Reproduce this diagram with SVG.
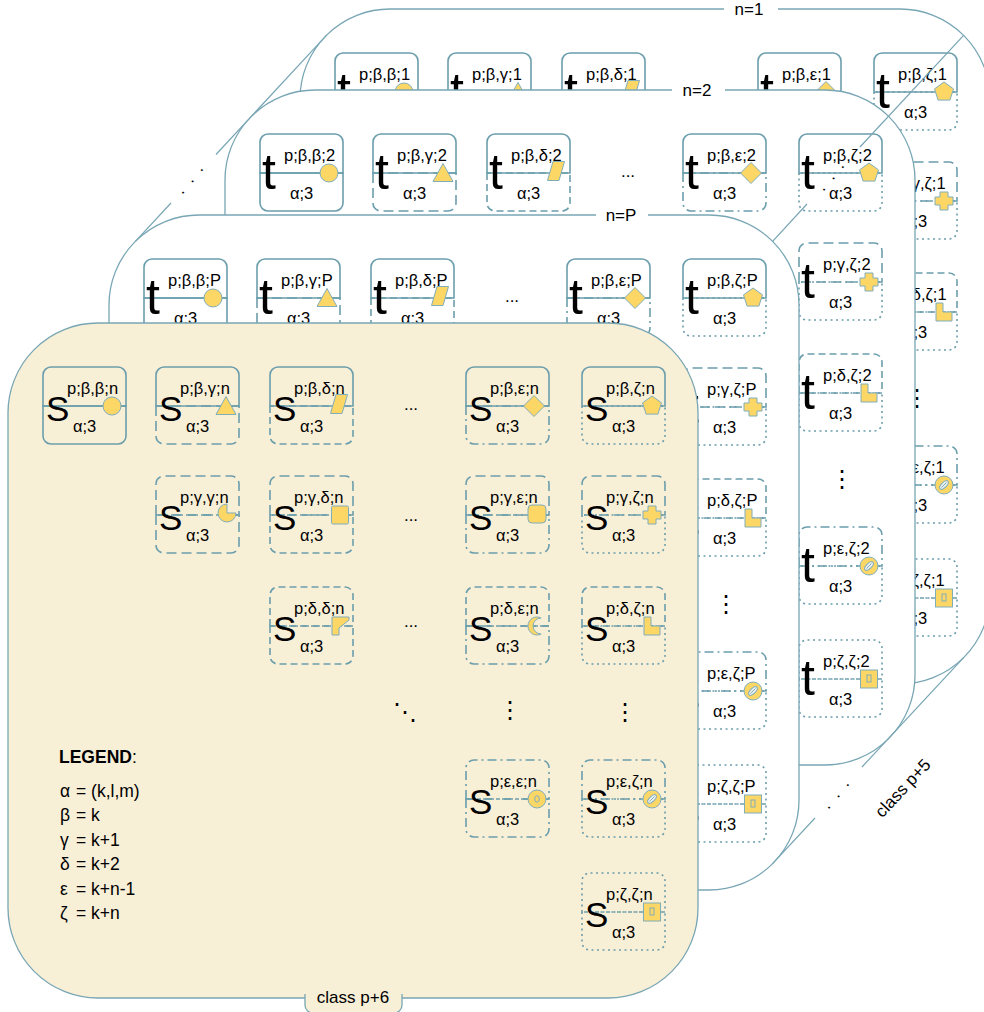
<svg xmlns="http://www.w3.org/2000/svg" width="984" height="1012" viewBox="0 0 984 1012">
<style>
text{font-family:"Liberation Sans",Arial,sans-serif;fill:#000}
.panel{fill:#fff;stroke:#78a6b4;stroke-width:1.3}
.cream{fill:#f8efd7}
.fr{fill:none;stroke:#6b9eac;stroke-width:1.6}
.g{stroke-dasharray:10 5}
.d{stroke-dasharray:7 4}
.e{stroke-dasharray:9 4 2 4}
.z{stroke-dasharray:2 3.5}
.sh{fill:#fdd766;stroke:#80adba;stroke-width:1}
.S{font-size:35px}
.T{font-size:50px}
.lb{font-size:16.5px}
.pl{font-size:17px;text-anchor:middle}
.el{font-size:17px;text-anchor:middle}
.vd{font-family:"DejaVu Sans",sans-serif;font-size:24px;text-anchor:middle}
.conn{stroke:#78a6b4;stroke-width:1.2;fill:none}
.lg{font-size:17.5px}
.dots{font-size:17px;text-anchor:middle;letter-spacing:2.6px}
</style>
<defs>
<path id="top" d="M0,39 V8 A8,8 0 0 1 8,0 H75 A8,8 0 0 1 83,8 V39 Z"/>
<path id="bot" d="M0,39 V69 A8,8 0 0 0 8,77 H75 A8,8 0 0 0 83,69 V39 Z"/>
<circle id="s-circ" class="sh" r="9"/>
<polygon id="s-tri" class="sh" points="0,-9.5 10,8.5 -10,8.5"/>
<polygon id="s-para" class="sh" points="-3,-9.5 8.5,-9.5 3,9.5 -8.5,9.5"/>
<polygon id="s-dia" class="sh" points="0,-10.5 10.5,0 0,10.5 -10.5,0"/>
<polygon id="s-pent" class="sh" points="0,-10 9.5,-3.1 5.9,8.1 -5.9,8.1 -9.5,-3.1"/>
<path id="s-pac" class="sh" d="M0,0 V-9 A9,9 0 1 0 9,0 Z"/>
<rect id="s-sq" class="sh" x="-8.5" y="-9" width="17" height="18" rx="1.5"/>
<rect id="s-rsq" class="sh" x="-9" y="-9" width="18" height="18" rx="4"/>
<polygon id="s-cross" class="sh" points="-4,-9 4,-9 4,-4 9,-4 9,4 4,4 4,9 -4,9 -4,4 -9,4 -9,-4 -4,-4"/>
<polygon id="s-flag" class="sh" points="-8,-9 9,-9 9,-6 -1,2 -1,9 -8,9"/>
<path id="s-moon" class="sh" d="M4.1,-8 A9,9 0 1 0 4.1,8 A8,8 0 1 1 4.1,-8 Z"/>
<polygon id="s-L" class="sh" points="-8,-9 -1,-9 -1,0 8,0 8,9 -8,9"/>
<g id="s-ring" class="sh"><circle r="9"/><ellipse rx="2.3" ry="3.3" style="fill:none"/></g>
<g id="s-hatch" class="sh"><circle r="9"/><ellipse rx="2.6" ry="5.5" transform="rotate(45)" style="fill:#e9eef0"/><line x1="-2.5" y1="2.5" x2="2.5" y2="-2.5"/></g>
<g id="s-box" class="sh"><rect x="-8.5" y="-9" width="17" height="18"/><rect x="-2" y="-4" width="4" height="7" style="fill:none"/></g>
</defs>

<!-- n=1 panel -->
<g id="panel-n1" transform="translate(300,9)">
<rect class="panel" width="690" height="675" rx="90"/>
<rect x="424" y="-7" width="54" height="14" fill="#fff"/>
<text class="pl" x="449" y="6">n=1</text>
<g id="n1-bb" transform="translate(35,44)"><use href="#top" class="fr"/><use href="#bot" class="fr"/><text class="T" x="2" y="55">t</text><text class="lb" x="24" y="27">p;β,β;1</text><text class="lb" x="30" y="65">α;3</text><use href="#s-circ" x="69" y="39"/></g>
<g id="n1-bg" transform="translate(148,44)"><use href="#top" class="fr"/><use href="#bot" class="fr g"/><text class="T" x="2" y="55">t</text><text class="lb" x="24" y="27">p;β,γ;1</text><text class="lb" x="30" y="65">α;3</text><use href="#s-tri" x="70" y="39"/></g>
<g id="n1-bd" transform="translate(262,44)"><use href="#top" class="fr"/><use href="#bot" class="fr d"/><text class="T" x="2" y="55">t</text><text class="lb" x="24" y="27">p;β,δ;1</text><text class="lb" x="30" y="65">α;3</text><use href="#s-para" x="69" y="37"/></g>
<g id="n1-be" transform="translate(458,44)"><use href="#top" class="fr"/><use href="#bot" class="fr e"/><text class="T" x="2" y="55">t</text><text class="lb" x="24" y="27">p;β,ε;1</text><text class="lb" x="30" y="65">α;3</text><use href="#s-dia" x="68" y="39"/></g>
<g id="n1-bz" transform="translate(574,44)"><use href="#top" class="fr"/><use href="#bot" class="fr z"/><text class="T" x="2" y="55">t</text><text class="lb" x="24" y="27">p;β,ζ;1</text><text class="lb" x="30" y="65">α;3</text><use href="#s-pent" x="70" y="39"/></g>
<g id="n1-gz" transform="translate(574,153)"><use href="#top" class="fr g"/><use href="#bot" class="fr z"/><text class="T" x="2" y="55">t</text><text class="lb" x="24" y="27">p;γ,ζ;1</text><text class="lb" x="30" y="65">α;3</text><use href="#s-cross" x="70" y="39"/></g>
<g id="n1-dz" transform="translate(574,264)"><use href="#top" class="fr d"/><use href="#bot" class="fr z"/><text class="T" x="2" y="55">t</text><text class="lb" x="24" y="27">p;δ,ζ;1</text><text class="lb" x="30" y="65">α;3</text><use href="#s-L" x="70" y="39"/></g>
<g id="n1-ez" transform="translate(574,437)"><use href="#top" class="fr e"/><use href="#bot" class="fr z"/><text class="T" x="2" y="55">t</text><text class="lb" x="24" y="27">p;ε,ζ;1</text><text class="lb" x="30" y="65">α;3</text><use href="#s-hatch" x="70" y="39"/></g>
<g id="n1-zz" transform="translate(574,550)"><use href="#top" class="fr z"/><use href="#bot" class="fr z"/><text class="T" x="2" y="55">t</text><text class="lb" x="24" y="27">p;ζ,ζ;1</text><text class="lb" x="30" y="65">α;3</text><use href="#s-box" x="70" y="39"/></g>
<text class="vd" x="617" y="397">⋮</text>
</g>

<!-- n=2 panel -->
<g id="panel-n2" transform="translate(225,90)">
<rect class="panel" width="690" height="675" rx="90"/>
<rect x="447" y="-7" width="53" height="14" fill="#fff"/>
<text class="pl" x="472" y="6">n=2</text>
<g id="n2-bb" transform="translate(35,44)"><use href="#top" class="fr"/><use href="#bot" class="fr"/><text class="T" x="2" y="55">t</text><text class="lb" x="24" y="27">p;β,β;2</text><text class="lb" x="30" y="65">α;3</text><use href="#s-circ" x="69" y="39"/></g>
<g id="n2-bg" transform="translate(148,44)"><use href="#top" class="fr"/><use href="#bot" class="fr g"/><text class="T" x="2" y="55">t</text><text class="lb" x="24" y="27">p;β,γ;2</text><text class="lb" x="30" y="65">α;3</text><use href="#s-tri" x="70" y="39"/></g>
<g id="n2-bd" transform="translate(262,44)"><use href="#top" class="fr"/><use href="#bot" class="fr d"/><text class="T" x="2" y="55">t</text><text class="lb" x="24" y="27">p;β,δ;2</text><text class="lb" x="30" y="65">α;3</text><use href="#s-para" x="69" y="37"/></g>
<text class="el" x="403" y="87">...</text>
<g id="n2-be" transform="translate(458,44)"><use href="#top" class="fr"/><use href="#bot" class="fr e"/><text class="T" x="2" y="55">t</text><text class="lb" x="24" y="27">p;β,ε;2</text><text class="lb" x="30" y="65">α;3</text><use href="#s-dia" x="68" y="39"/></g>
<g id="n2-bz" transform="translate(574,44)"><use href="#top" class="fr"/><use href="#bot" class="fr z"/><text class="T" x="2" y="55">t</text><text class="lb" x="24" y="27">p;β,ζ;2</text><text class="lb" x="30" y="65">α;3</text><use href="#s-pent" x="70" y="39"/></g>
<g id="n2-gz" transform="translate(574,153)"><use href="#top" class="fr g"/><use href="#bot" class="fr z"/><text class="T" x="2" y="55">t</text><text class="lb" x="24" y="27">p;γ,ζ;2</text><text class="lb" x="30" y="65">α;3</text><use href="#s-cross" x="70" y="39"/></g>
<g id="n2-dz" transform="translate(574,264)"><use href="#top" class="fr d"/><use href="#bot" class="fr z"/><text class="T" x="2" y="55">t</text><text class="lb" x="24" y="27">p;δ,ζ;2</text><text class="lb" x="30" y="65">α;3</text><use href="#s-L" x="70" y="39"/></g>
<g id="n2-ez" transform="translate(574,437)"><use href="#top" class="fr e"/><use href="#bot" class="fr z"/><text class="T" x="2" y="55">t</text><text class="lb" x="24" y="27">p;ε,ζ;2</text><text class="lb" x="30" y="65">α;3</text><use href="#s-hatch" x="70" y="39"/></g>
<g id="n2-zz" transform="translate(574,550)"><use href="#top" class="fr z"/><use href="#bot" class="fr z"/><text class="T" x="2" y="55">t</text><text class="lb" x="24" y="27">p;ζ,ζ;2</text><text class="lb" x="30" y="65">α;3</text><use href="#s-box" x="70" y="39"/></g>
<text class="vd" x="617" y="397">⋮</text>
</g>

<!-- n=P panel -->
<g id="panel-nP" transform="translate(109,215)">
<rect class="panel" width="690" height="675" rx="90"/>
<rect x="487" y="-7" width="52" height="14" fill="#fff"/>
<text class="pl" x="512" y="6">n=P</text>
<g id="nP-bb" transform="translate(35,44)"><use href="#top" class="fr"/><use href="#bot" class="fr"/><text class="T" x="2" y="55">t</text><text class="lb" x="24" y="27">p;β,β;P</text><text class="lb" x="30" y="65">α;3</text><use href="#s-circ" x="69" y="39"/></g>
<g id="nP-bg" transform="translate(148,44)"><use href="#top" class="fr"/><use href="#bot" class="fr g"/><text class="T" x="2" y="55">t</text><text class="lb" x="24" y="27">p;β,γ;P</text><text class="lb" x="30" y="65">α;3</text><use href="#s-tri" x="70" y="39"/></g>
<g id="nP-bd" transform="translate(262,44)"><use href="#top" class="fr"/><use href="#bot" class="fr d"/><text class="T" x="2" y="55">t</text><text class="lb" x="24" y="27">p;β,δ;P</text><text class="lb" x="30" y="65">α;3</text><use href="#s-para" x="69" y="37"/></g>
<text class="el" x="403" y="87">...</text>
<g id="nP-be" transform="translate(458,44)"><use href="#top" class="fr"/><use href="#bot" class="fr e"/><text class="T" x="2" y="55">t</text><text class="lb" x="24" y="27">p;β,ε;P</text><text class="lb" x="30" y="65">α;3</text><use href="#s-dia" x="68" y="39"/></g>
<g id="nP-bz" transform="translate(574,44)"><use href="#top" class="fr"/><use href="#bot" class="fr z"/><text class="T" x="2" y="55">t</text><text class="lb" x="24" y="27">p;β,ζ;P</text><text class="lb" x="30" y="65">α;3</text><use href="#s-pent" x="70" y="39"/></g>
<g id="nP-gz" transform="translate(574,153)"><use href="#top" class="fr g"/><use href="#bot" class="fr z"/><text class="T" x="2" y="55">t</text><text class="lb" x="24" y="27">p;γ,ζ;P</text><text class="lb" x="30" y="65">α;3</text><use href="#s-cross" x="70" y="39"/></g>
<g id="nP-dz" transform="translate(574,264)"><use href="#top" class="fr d"/><use href="#bot" class="fr z"/><text class="T" x="2" y="55">t</text><text class="lb" x="24" y="27">p;δ,ζ;P</text><text class="lb" x="30" y="65">α;3</text><use href="#s-L" x="70" y="39"/></g>
<g id="nP-ez" transform="translate(574,437)"><use href="#top" class="fr e"/><use href="#bot" class="fr z"/><text class="T" x="2" y="55">t</text><text class="lb" x="24" y="27">p;ε,ζ;P</text><text class="lb" x="30" y="65">α;3</text><use href="#s-hatch" x="70" y="39"/></g>
<g id="nP-zz" transform="translate(574,550)"><use href="#top" class="fr z"/><use href="#bot" class="fr z"/><text class="T" x="2" y="55">t</text><text class="lb" x="24" y="27">p;ζ,ζ;P</text><text class="lb" x="30" y="65">α;3</text><use href="#s-box" x="70" y="39"/></g>
<text class="vd" x="617" y="397">⋮</text>
</g>

<!-- perspective connectors -->
<g id="connectors">
<path class="conn" d="M326.4,35.4 L216,154.5 M171,203 L135.4,241.4"/>
<path class="conn" d="M963.6,35.4 L860,147 M807,204 L772.6,241.4"/>
<path class="conn" d="M963.6,657.6 L862,767 M815,818 L772.6,863.6"/>
<text class="dots" transform="translate(194,181) rotate(-50)">. . .</text>
<text class="dots" transform="translate(835,178) rotate(-50)">. . .</text>
<text class="dots" transform="translate(840,796) rotate(-50)">. . .</text>
<text class="pl" transform="translate(907,792) rotate(-47)">class p+5</text>
</g>

<!-- front panel: class p+6 -->
<g id="panel-p6" transform="translate(8,323)">
<rect class="panel cream" width="690" height="675" rx="90"/>
<path d="M297,671 V682 A8,8 0 0 0 305,690 H386 A8,8 0 0 0 394,682 V671" fill="#f8efd7" stroke="#78a6b4" stroke-width="1.3"/>
<text class="pl" x="345" y="680">class p+6</text>
<g id="f-bb" transform="translate(35,44)"><use href="#top" class="fr"/><use href="#bot" class="fr"/><text class="S" x="3" y="54">S</text><text class="lb" x="24" y="27">p;β,β;n</text><text class="lb" x="30" y="65">α;3</text><use href="#s-circ" x="69" y="39"/></g>
<g id="f-bg" transform="translate(148,44)"><use href="#top" class="fr"/><use href="#bot" class="fr g"/><text class="S" x="3" y="54">S</text><text class="lb" x="24" y="27">p;β,γ;n</text><text class="lb" x="30" y="65">α;3</text><use href="#s-tri" x="70" y="39"/></g>
<g id="f-bd" transform="translate(262,44)"><use href="#top" class="fr"/><use href="#bot" class="fr d"/><text class="S" x="3" y="54">S</text><text class="lb" x="24" y="27">p;β,δ;n</text><text class="lb" x="30" y="65">α;3</text><use href="#s-para" x="69" y="37"/></g>
<g id="f-be" transform="translate(458,44)"><use href="#top" class="fr"/><use href="#bot" class="fr e"/><text class="S" x="3" y="54">S</text><text class="lb" x="24" y="27">p;β,ε;n</text><text class="lb" x="30" y="65">α;3</text><use href="#s-dia" x="68" y="39"/></g>
<g id="f-bz" transform="translate(574,44)"><use href="#top" class="fr"/><use href="#bot" class="fr z"/><text class="S" x="3" y="54">S</text><text class="lb" x="24" y="27">p;β,ζ;n</text><text class="lb" x="30" y="65">α;3</text><use href="#s-pent" x="70" y="39"/></g>
<g id="f-gg" transform="translate(148,153)"><use href="#top" class="fr g"/><use href="#bot" class="fr g"/><text class="S" x="3" y="54">S</text><text class="lb" x="24" y="27">p;γ,γ;n</text><text class="lb" x="30" y="65">α;3</text><use href="#s-pac" x="71" y="37"/></g>
<g id="f-gd" transform="translate(262,153)"><use href="#top" class="fr g"/><use href="#bot" class="fr d"/><text class="S" x="3" y="54">S</text><text class="lb" x="24" y="27">p;γ,δ;n</text><text class="lb" x="30" y="65">α;3</text><use href="#s-sq" x="70" y="39"/></g>
<g id="f-ge" transform="translate(458,153)"><use href="#top" class="fr g"/><use href="#bot" class="fr e"/><text class="S" x="3" y="54">S</text><text class="lb" x="24" y="27">p;γ,ε;n</text><text class="lb" x="30" y="65">α;3</text><use href="#s-rsq" x="71" y="38"/></g>
<g id="f-gz" transform="translate(574,153)"><use href="#top" class="fr g"/><use href="#bot" class="fr z"/><text class="S" x="3" y="54">S</text><text class="lb" x="24" y="27">p;γ,ζ;n</text><text class="lb" x="30" y="65">α;3</text><use href="#s-cross" x="70" y="39"/></g>
<g id="f-dd" transform="translate(262,264)"><use href="#top" class="fr d"/><use href="#bot" class="fr d"/><text class="S" x="3" y="54">S</text><text class="lb" x="24" y="27">p;δ,δ;n</text><text class="lb" x="30" y="65">α;3</text><use href="#s-flag" x="70" y="39"/></g>
<g id="f-de" transform="translate(458,264)"><use href="#top" class="fr d"/><use href="#bot" class="fr e"/><text class="S" x="3" y="54">S</text><text class="lb" x="24" y="27">p;δ,ε;n</text><text class="lb" x="30" y="65">α;3</text><use href="#s-moon" x="71" y="39"/></g>
<g id="f-dz" transform="translate(574,264)"><use href="#top" class="fr d"/><use href="#bot" class="fr z"/><text class="S" x="3" y="54">S</text><text class="lb" x="24" y="27">p;δ,ζ;n</text><text class="lb" x="30" y="65">α;3</text><use href="#s-L" x="70" y="39"/></g>
<g id="f-ee" transform="translate(458,437)"><use href="#top" class="fr e"/><use href="#bot" class="fr e"/><text class="S" x="3" y="54">S</text><text class="lb" x="24" y="27">p;ε,ε;n</text><text class="lb" x="30" y="65">α;3</text><use href="#s-ring" x="71" y="39"/></g>
<g id="f-ez" transform="translate(574,437)"><use href="#top" class="fr e"/><use href="#bot" class="fr z"/><text class="S" x="3" y="54">S</text><text class="lb" x="24" y="27">p;ε,ζ;n</text><text class="lb" x="30" y="65">α;3</text><use href="#s-hatch" x="70" y="39"/></g>
<g id="f-zz" transform="translate(574,550)"><use href="#top" class="fr z"/><use href="#bot" class="fr z"/><text class="S" x="3" y="54">S</text><text class="lb" x="24" y="27">p;ζ,ζ;n</text><text class="lb" x="30" y="65">α;3</text><use href="#s-box" x="70" y="39"/></g>
<text class="el" x="403" y="87">...</text>
<text class="el" x="403" y="198">...</text>
<text class="el" x="403" y="304">...</text>
<text class="vd" x="397" y="397">⋱</text>
<text class="vd" x="502" y="395">⋮</text>
<text class="vd" x="617" y="397">⋮</text>
<g id="legend">
<text class="lg" x="51" y="440"><tspan font-weight="bold">LEGEND</tspan>:</text>
<text class="lg" y="474"><tspan x="52">α</tspan><tspan x="68">= (k,l,m)</tspan></text>
<text class="lg" y="498"><tspan x="52">β</tspan><tspan x="68">= k</tspan></text>
<text class="lg" y="522.5"><tspan x="52">γ</tspan><tspan x="68">= k+1</tspan></text>
<text class="lg" y="547"><tspan x="52">δ</tspan><tspan x="68">= k+2</tspan></text>
<text class="lg" y="571.5"><tspan x="52">ε</tspan><tspan x="68">= k+n-1</tspan></text>
<text class="lg" y="596"><tspan x="52">ζ</tspan><tspan x="68">= k+n</tspan></text>
</g>
</g>
</svg>
